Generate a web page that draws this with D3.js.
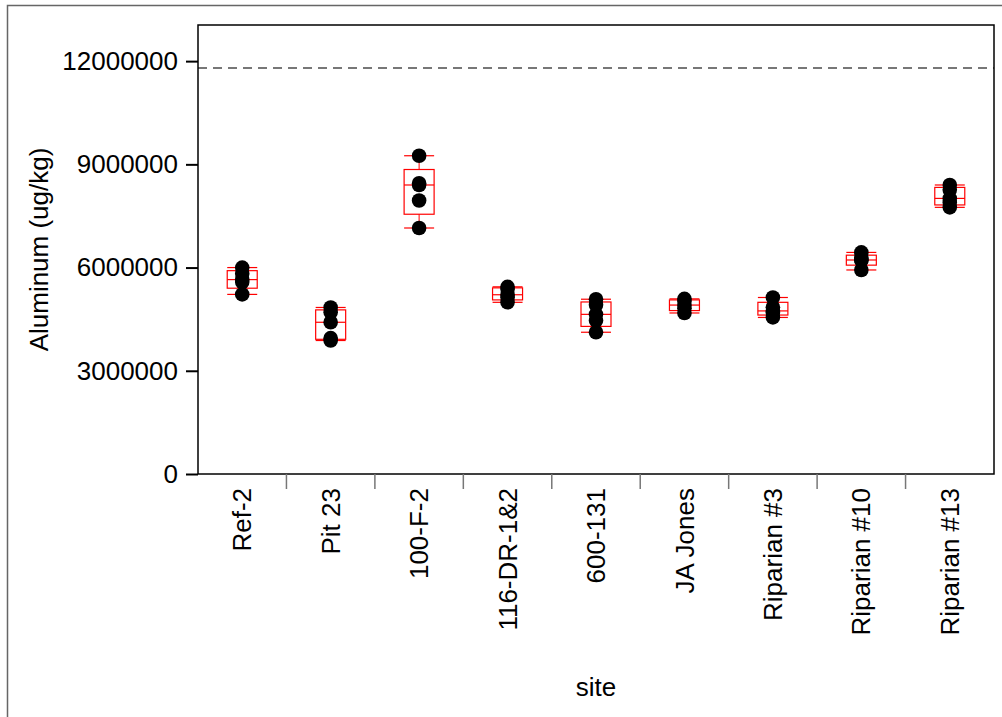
<!DOCTYPE html>
<html>
<head>
<meta charset="utf-8">
<script src="https://cdn.jsdelivr.net/npm/d3@7"></script>
<style>
  body { margin: 0; background: #fff; }
  svg { display: block; font-family: "Liberation Sans", Arial, sans-serif; }
</style>
</head>
<body>
<div id="chart"></div>
<script>
// sites along the x axis
const sites = ["Ref-2", "Pit 23", "100-F-2", "116-DR-1&2", "600-131", "JA Jones", "Riparian #3", "Riparian #10", "Riparian #13"];
// aluminum samples per site (ug/kg)
const samples = [
  [5220000, 5580000, 5650000, 5820000, 6000000],
  [3880000, 3950000, 4410000, 4700000, 4840000],
  [7150000, 7950000, 8400000, 8450000, 9250000],
  [4990000, 5130000, 5210000, 5380000, 5440000],
  [4120000, 4460000, 4640000, 4920000, 5080000],
  [4680000, 4820000, 4910000, 5030000, 5090000],
  [4550000, 4690000, 4740000, 4850000, 5130000],
  [5930000, 6210000, 6220000, 6280000, 6440000],
  [7750000, 7890000, 8010000, 8260000, 8400000]
];
const yTicks = [0, 3000000, 6000000, 9000000, 12000000];
const refLine = 11800000;

const W = 1002, H = 717;
const m = { left: 198, top: 25, right: 994, bottom: 474 };
const fs = 26;

const svg = d3.select("#chart").append("svg").attr("width", W).attr("height", H);

// outer frame
svg.append("rect").attr("x", 7.5).attr("y", 5.5).attr("width", W).attr("height", H)
  .attr("fill", "none").attr("stroke", "#666").attr("stroke-width", 1.5);

const x = d3.scaleBand().domain(sites).range([m.left, m.right]);
const y = d3.scaleLinear().domain([0, 13050000]).range([m.bottom, m.top]);

// quantile with (n+1)p positions, as the box plot in the source uses
function q(sorted, p) {
  const pos = (sorted.length + 1) * p - 1;
  const lo = Math.max(0, Math.floor(pos)), hi = Math.min(sorted.length - 1, Math.ceil(pos));
  return sorted[lo] + (sorted[hi] - sorted[lo]) * (pos - lo);
}

// reference line
svg.append("line")
  .attr("x1", m.left).attr("x2", m.right)
  .attr("y1", y(refLine)).attr("y2", y(refLine))
  .attr("stroke", "#777").attr("stroke-width", 2).attr("stroke-dasharray", "9,6");

// plot frame
svg.append("rect").attr("x", m.left).attr("y", m.top)
  .attr("width", m.right - m.left).attr("height", m.bottom - m.top)
  .attr("fill", "none").attr("stroke", "#000").attr("stroke-width", 1.5);

// y axis
const yAxis = svg.append("g").attr("transform", `translate(${m.left},0)`)
  .call(d3.axisLeft(y).tickValues(yTicks).tickFormat(d3.format("d")).tickSize(12).tickPadding(8));
yAxis.select(".domain").remove();
yAxis.selectAll("line").attr("stroke", "#000").attr("stroke-width", 2);
yAxis.selectAll("text").attr("font-size", fs).attr("fill", "#000")
  .attr("font-family", "Liberation Sans, Arial, sans-serif");

// x dividers
const bounds = sites.slice(1).map(s => x(s));
svg.append("g").selectAll("line").data(bounds).join("line")
  .attr("x1", d => d).attr("x2", d => d)
  .attr("y1", m.bottom).attr("y2", m.bottom + 15)
  .attr("stroke", "#777").attr("stroke-width", 1.5);

// x labels
svg.append("g").selectAll("text").data(sites).join("text")
  .attr("transform", d => `translate(${x(d) + x.bandwidth() / 2},${m.bottom + 14}) rotate(-90)`)
  .attr("text-anchor", "end").attr("dy", "0.35em")
  .attr("font-size", fs).text(d => d);

// axis titles
svg.append("text")
  .attr("transform", `translate(48,${(m.top + m.bottom) / 2}) rotate(-90)`)
  .attr("text-anchor", "middle").attr("font-size", fs).text("Aluminum (ug/kg)");
svg.append("text")
  .attr("x", (m.left + m.right) / 2).attr("y", 696)
  .attr("text-anchor", "middle").attr("font-size", fs).text("site");

// boxes
const boxW = 30;
const groups = svg.append("g").selectAll("g").data(sites).join("g")
  .attr("transform", d => `translate(${x(d) + x.bandwidth() / 2},0)`);

groups.each(function (site, i) {
  const g = d3.select(this);
  const v = samples[i].slice().sort(d3.ascending);
  const q1 = q(v, 0.25), med = q(v, 0.5), q3 = q(v, 0.75);
  const lo = v[0], hi = v[v.length - 1];
  const red = "#f00";
  g.append("line").attr("x1", 0).attr("x2", 0).attr("y1", y(hi)).attr("y2", y(q3)).attr("stroke", red);
  g.append("line").attr("x1", 0).attr("x2", 0).attr("y1", y(q1)).attr("y2", y(lo)).attr("stroke", red);
  [hi, lo, med].forEach(val => {
    g.append("line").attr("x1", -boxW / 2).attr("x2", boxW / 2)
      .attr("y1", y(val)).attr("y2", y(val)).attr("stroke", red).attr("stroke-width", 1.2);
  });
  g.append("rect").attr("x", -boxW / 2).attr("width", boxW)
    .attr("y", y(q3)).attr("height", y(q1) - y(q3))
    .attr("fill", "none").attr("stroke", red).attr("stroke-width", 1.2);
  g.selectAll("circle").data(v).join("circle")
    .attr("cx", 0).attr("cy", d => y(d)).attr("r", 7.3).attr("fill", "#000");
});
</script>
</body>
</html>
